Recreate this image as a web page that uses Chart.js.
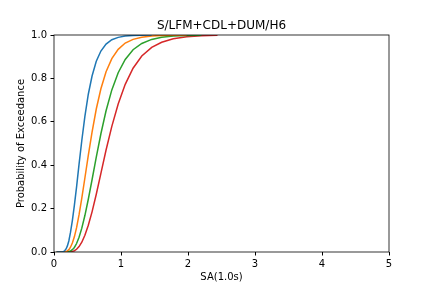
<!DOCTYPE html>
<html>
<head>
<meta charset="utf-8">
<script src="https://cdn.jsdelivr.net/npm/chart.js@4.4.1/dist/chart.umd.min.js"></script>
<style>
  html, body { margin: 0; padding: 0; background: #fff; }
</style>
</head>
<body>
<canvas id="fragChart" width="432" height="288"></canvas>
<script>
// Chart title
var chartTitle = 'S/LFM+CDL+DUM/H6';

// Spectral acceleration samples (x)
var sa = [0.04, 0.10, 0.119, 0.132, 0.146, 0.162, 0.180, 0.200, 0.222, 0.246, 0.274, 0.304,
          0.337, 0.374, 0.415, 0.461, 0.512, 0.568, 0.631, 0.700, 0.777, 0.863, 0.958,
          1.063, 1.180, 1.310, 1.458, 1.607, 1.780, 1.980, 2.200, 2.440];

// Probability of exceedance for each curve
var curve1 = [0, 0, 0.0004, 0.0011, 0.003, 0.007, 0.014, 0.028, 0.052, 0.09, 0.145, 0.215,
              0.30, 0.405, 0.514, 0.625, 0.727, 0.811, 0.879, 0.926, 0.958, 0.978, 0.989,
              0.995, 0.998, 0.999, 1];
var curve2 = [0, 0, 0, 0, 0.0004, 0.001, 0.0025, 0.0055, 0.011, 0.022, 0.041, 0.07,
              0.112, 0.172, 0.248, 0.341, 0.445, 0.552, 0.659, 0.752, 0.831, 0.891, 0.934,
              0.963, 0.980, 0.990, 0.9955, 0.998, 0.999, 1];
var curve3 = [0, 0, 0, 0, 0, 0.0001, 0.0003, 0.0008, 0.002, 0.0048, 0.0105, 0.021,
              0.039, 0.068, 0.11, 0.168, 0.243, 0.333, 0.437, 0.545, 0.651, 0.747, 0.826,
              0.8875, 0.932, 0.961, 0.9796, 0.9893, 0.995, 0.9978, 0.9991];
var curve4 = [0, 0, 0, 0, 0, 0, 0, 0.0001, 0.0004, 0.0011, 0.0027, 0.006,
              0.0125, 0.025, 0.045, 0.077, 0.123, 0.185, 0.266, 0.362, 0.470, 0.579, 0.682,
              0.7725, 0.847, 0.903, 0.943, 0.9667, 0.9824, 0.9914, 0.9961, 0.9983];

// Axis ticks
var xTicks = [0, 1, 2, 3, 4, 5];
var yTicks = [0.0, 0.2, 0.4, 0.6, 0.8, 1.0];

var colors = ['#1f77b4', '#ff7f0e', '#2ca02c', '#d62728'];

function toPoints(ys) {
    return ys.map(function (y, i) { return { x: sa[i], y: y }; });
}

Chart.defaults.font.family = "'DejaVu Sans', sans-serif";
Chart.defaults.font.size = 10;
Chart.defaults.color = '#000';

// box round the plot plus the title, drawn on top like matplotlib spines
var framePlugin = {
    id: 'frame',
    afterDatasetsDraw: function (chart) {
        var a = chart.chartArea, ctx = chart.ctx;
        ctx.save();
        ctx.strokeStyle = '#000';
        ctx.lineWidth = 0.8;
        ctx.strokeRect(a.left, a.top, a.right - a.left, a.bottom - a.top);
        ctx.restore();
    },
    afterDraw: function (chart) {
        var a = chart.chartArea, ctx = chart.ctx;
        ctx.save();
        ctx.fillStyle = '#000';
        ctx.font = "12px 'DejaVu Sans', sans-serif";
        ctx.textAlign = 'center';
        ctx.textBaseline = 'alphabetic';
        ctx.fillText(chartTitle, (a.left + a.right) / 2, a.top - 6);
        ctx.restore();
    }
};

var datasets = [curve1, curve2, curve3, curve4].map(function (c, i) {
    return {
        data: toPoints(c),
        borderColor: colors[i],
        backgroundColor: colors[i],
        borderWidth: 1.5,
        pointRadius: 0,
        tension: 0,
        fill: false,
        clip: 0
    };
});

var myChart = new Chart(document.getElementById('fragChart'), {
    type: 'line',
    data: { datasets: datasets },
    plugins: [framePlugin],
    options: {
        responsive: false,
        animation: false,
        devicePixelRatio: 1,
        layout: { padding: { left: 0, right: 43, top: 35, bottom: 0 } },
        plugins: {
            legend: { display: false },
            tooltip: { enabled: false },
            title: { display: false }
        },
        scales: {
            x: {
                type: 'linear',
                min: 0,
                max: 5,
                afterFit: function (s) { s.height = 36; },
                afterBuildTicks: function (s) {
                    s.ticks = xTicks.map(function (v) { return { value: v }; });
                },
                ticks: {
                    padding: 3,
                    maxRotation: 0,
                    callback: function (v) { return String(v); }
                },
                grid: { drawOnChartArea: false, drawTicks: true, tickLength: 3.5, color: '#000' },
                border: { display: false },
                title: { display: true, text: 'SA(1.0s)', padding: { top: 0, bottom: 5 } }
            },
            y: {
                type: 'linear',
                min: 0,
                max: 1,
                afterFit: function (s) { s.width = 54; },
                afterBuildTicks: function (s) {
                    s.ticks = yTicks.map(function (v) { return { value: v }; });
                },
                ticks: {
                    padding: 3.5,
                    callback: function (v) { return v.toFixed(1); }
                },
                grid: { drawOnChartArea: false, drawTicks: true, tickLength: 3.5, color: '#000' },
                border: { display: false },
                title: { display: true, text: 'Probability of Exceedance', padding: { top: 15, bottom: 0 } }
            }
        }
    }
});
</script>
</body>
</html>
